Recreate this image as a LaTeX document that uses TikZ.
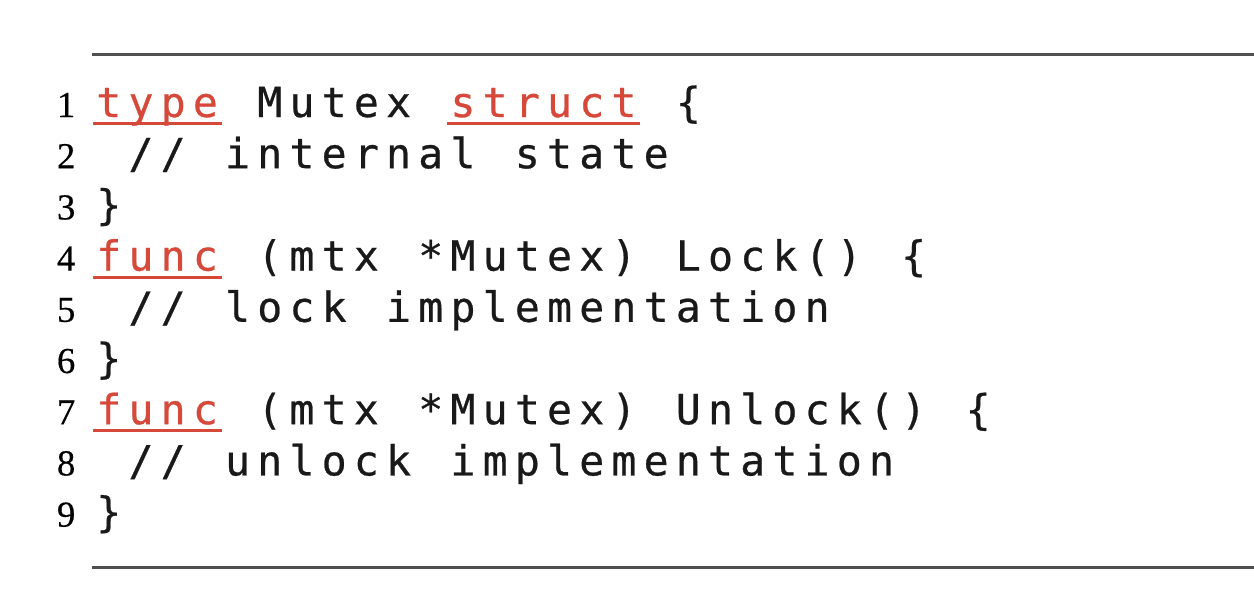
\documentclass[tikz,border=0pt]{standalone}
\usepackage{fontspec}
\setmainfont{Liberation Serif}
\newfontfamily\codefont[FakeBold=0.6]{DejaVu Sans Mono}
\newfontfamily\numfont[FakeBold=0.5]{Liberation Serif}
\definecolor{kwred}{RGB}{214,72,58}
\definecolor{rulegray}{RGB}{80,80,80}
\definecolor{codeblack}{RGB}{25,25,25}
\newlength\cw
\setlength\cw{3.22mm}
\newsavebox\kwbox
\ExplSyntaxOn
\NewDocumentCommand\mono{m}{\tl_map_inline:nn{#1}{\makebox[\cw][c]{##1}}}
\ExplSyntaxOff
\newcommand\kw[1]{\sbox\kwbox{\color{kwred}\mono{#1}}\rlap{\textcolor{kwred}{\rule[-0.8mm]{\wd\kwbox}{0.3mm}}}\usebox\kwbox}
\begin{document}
\begin{tikzpicture}[x=0.1mm,y=-0.1mm,
  num/.style={anchor=base east,inner sep=0pt,font=\numfont\fontsize{10.4pt}{12pt}\selectfont},
  code/.style={anchor=base west,inner sep=0pt,text=codeblack,font=\codefont\fontsize{11.8pt}{14pt}\selectfont},
  hrule/.style={draw=rulegray,line width=0.3mm}]
\useasboundingbox (0,0) rectangle (1254,594);
\coordinate (topl) at (92,54);
\coordinate (topr) at (1254,54);
\coordinate (botl) at (92,567);
\coordinate (botr) at (1254,567);
\draw[hrule] (topl) -- (topr);
\draw[hrule] (botl) -- (botr);
\node[num] (n1) at (76,117) {1};
\node[code] (c1) at (92,117) {\kw{type}\mono{~Mutex~}\kw{struct}\mono{~\{}};
\node[num] (n2) at (76,168.2) {2};
\node[code] (c2) at (92,168.2) {\mono{~//~internal~state}};
\node[num] (n3) at (76,219.4) {3};
\node[code] (c3) at (92,219.4) {\mono{\}}};
\node[num] (n4) at (76,270.6) {4};
\node[code] (c4) at (92,270.6) {\kw{func}\mono{~(mtx~*Mutex)~Lock()~\{}};
\node[num] (n5) at (76,321.8) {5};
\node[code] (c5) at (92,321.8) {\mono{~//~lock~implementation}};
\node[num] (n6) at (76,373) {6};
\node[code] (c6) at (92,373) {\mono{\}}};
\node[num] (n7) at (76,424.2) {7};
\node[code] (c7) at (92,424.2) {\kw{func}\mono{~(mtx~*Mutex)~Unlock()~\{}};
\node[num] (n8) at (76,475.4) {8};
\node[code] (c8) at (92,475.4) {\mono{~//~unlock~implementation}};
\node[num] (n9) at (76,526.6) {9};
\node[code] (c9) at (92,526.6) {\mono{\}}};
\end{tikzpicture}
\end{document}
